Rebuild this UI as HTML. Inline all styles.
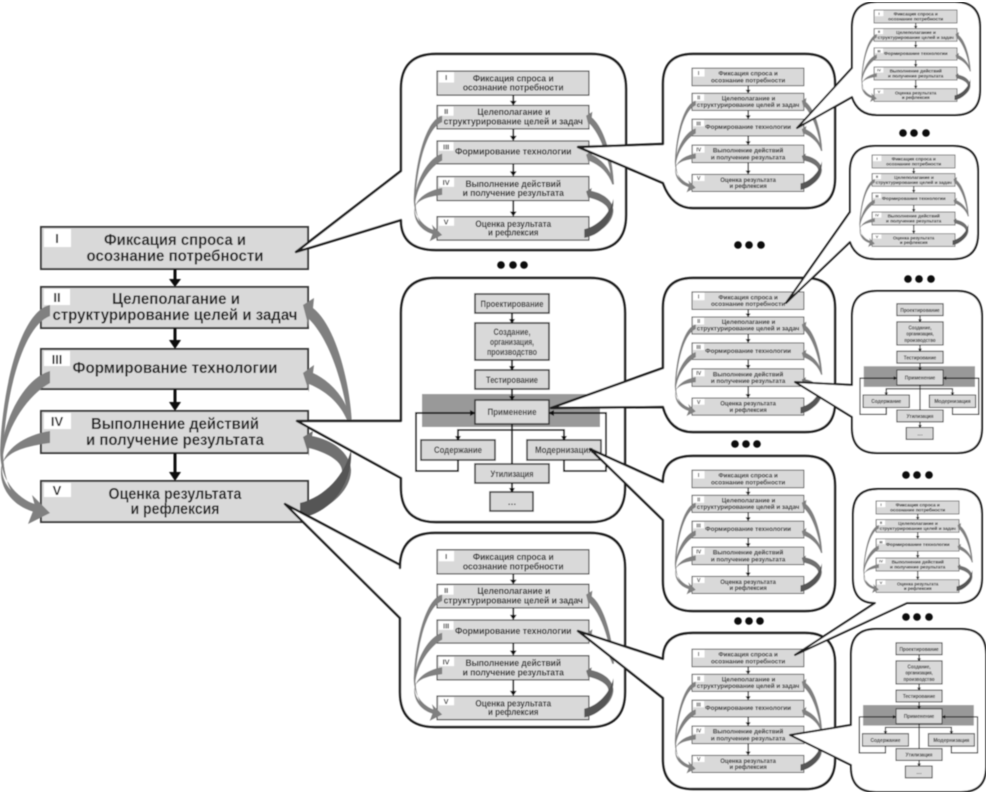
<!DOCTYPE html>
<html lang="ru"><head><meta charset="utf-8"><title>Диаграмма</title>
<style>
html,body{margin:0;padding:0;background:#fff}
svg{display:block}
text{font-family:"Liberation Sans",sans-serif;font-weight:bold;fill:#222;text-anchor:middle}
.c{font-size:15.5px}
.n{font-size:13px}
.p{font-size:9px;fill:#333}
.co{fill:#fff;stroke:#1a1a1a;stroke-width:2.4;stroke-linejoin:round}
.co2{fill:#fff;stroke:#1a1a1a;stroke-width:2;stroke-linejoin:round}
</style></head><body>
<svg width="988" height="793" viewBox="0 0 988 793" xmlns="http://www.w3.org/2000/svg">
<defs>
<filter id="b" x="0" y="0" width="100%" height="100%"><feGaussianBlur stdDeviation="0.45"/></filter>
<g id="fs">
<g fill="#d9d9d9" stroke="#3a3a3a" stroke-width="2">
<rect x="41" y="227" width="267" height="42"/><rect x="41" y="287" width="267" height="41"/><rect x="41" y="349" width="267" height="40"/><rect x="41" y="411" width="267" height="42"/><rect x="41" y="481" width="267" height="41"/>
</g>
<g fill="#fff">
<rect x="44" y="229" width="27" height="18"/><rect x="44" y="289" width="26" height="16"/><rect x="44" y="351" width="26" height="15"/><rect x="44" y="413" width="27" height="16"/><rect x="44" y="483" width="27" height="14"/>
</g>
<g stroke="#111" stroke-width="3"><path d="M175 269V280M175 328V341M175 389V404M175 453V473" fill="none"/></g>
<path d="M169 279h12l-6 8zM169 340h12l-6 9zM169 402h12l-6 9zM169 472h12l-6 9z" fill="#111"/>
<g fill="#808080">
<path d="M50 305C25 310 4 370 0 450C0 478 14 497 38 506L38 512C12 504 3 480 3 450C7 385 25 325 50 316Z"/>
<path d="M50 371C26 378 4 415 1 455C1 480 14 497 38 506L38 512C12 504 4 482 3 455C8 425 28 395 50 383Z"/>
<path d="M50 431C24 435 3 450 2 468C2 486 16 499 38 505L38 513C12 507 0 488 1 470C2 452 26 446 50 443Z"/>
<path d="M50 513L32 495L35 506L28 524Z"/>
<path d="M303 305L314 298L313 308C335 325 350 380 352 425L349 425C344 385 330 340 309 319L309 328Z"/>
<path d="M303 373L314 365L313 373C332 382 348 400 352 425L349 425C342 405 328 392 309 384L309 392Z"/>
</g>
<path d="M303 437L313 431L312 436C332 440 350 452 351 470C351 490 330 510 300 517L300 503C322 500 343 485 342 470C341 460 325 452 309 448L309 456Z" fill="#707070"/>
<path d="M300 503C325 497 345 475 351 450C353 480 335 512 300 518Z" fill="#555"/>
</g>
<g id="ps">
<rect x="422" y="394" width="178" height="33" fill="#999"/>
<g fill="#d9d9d9" stroke="#3a3a3a" stroke-width="1.6">
<rect x="475" y="294" width="74" height="19"/><rect x="475" y="323" width="74" height="37"/><rect x="475" y="370" width="74" height="19"/><rect x="475" y="400" width="74" height="24"/><rect x="421" y="440" width="74" height="20"/><rect x="527" y="440" width="74" height="20"/><rect x="475" y="464" width="74" height="19"/><rect x="490" y="492" width="43" height="19"/>
</g>
<g fill="none" stroke="#111" stroke-width="1.8">
<path d="M512 313V320M512 360V367M512 389V397M512 424V464M512 483V489M458 437V430H564V437"/>
<path d="M458 460V471H416V413H472M564 460V471H606V413H552"/>
</g>
<path d="M509 319h6l-3 5zM509 366h6l-3 5zM509 396h6l-3 5zM509 488h6l-3 5zM455 436h6l-3 5zM561 436h6l-3 5zM470 410v6l6-3zM554 410v6l-6-3z" fill="#111"/>
</g>
</defs>
<g filter="url(#b)">
<g>
<use href="#fs"/>
<text class="c" x="175" y="245" textLength="142" lengthAdjust="spacingAndGlyphs">Фиксация спроса и</text><text class="c" x="175" y="261" textLength="177" lengthAdjust="spacingAndGlyphs">осознание потребности</text><text class="c" x="176" y="304" textLength="128" lengthAdjust="spacingAndGlyphs">Целеполагание и</text><text class="c" x="175" y="320" textLength="245" lengthAdjust="spacingAndGlyphs">структурирование целей и задач</text><text class="c" x="175" y="373" textLength="205" lengthAdjust="spacingAndGlyphs">Формирование технологии</text><text class="c" x="175" y="429" textLength="168" lengthAdjust="spacingAndGlyphs">Выполнение действий</text><text class="c" x="175" y="445" textLength="178" lengthAdjust="spacingAndGlyphs">и получение результата</text><text class="c" x="175" y="499" textLength="133" lengthAdjust="spacingAndGlyphs">Оценка результата</text><text class="c" x="175" y="514" textLength="89" lengthAdjust="spacingAndGlyphs">и рефлексия</text>
<text class="n" x="57" y="243">I</text><text class="n" x="57" y="302">II</text><text class="n" x="57" y="364">III</text><text class="n" x="57" y="426">IV</text><text class="n" x="57" y="495">V</text>
</g>

<path class="co" d="M296 252L401 171V89Q401 54 436 54H591Q626 54 626 89V215Q626 250 591 250H436Q401 250 401 220Z"/>
<path class="co" d="M297 421L401 421V313Q401 278 436 278H590Q625 278 625 313V487Q625 522 590 522H436Q401 522 401 487V478Z"/>
<path class="co" d="M285 504L400 565V568Q400 533 435 533H590Q625 533 625 568V692Q625 727 590 727H435Q400 727 400 692V618Z"/>

<g transform="translate(413.7 -59) scale(.569 .573)">
<use href="#fs"/>
<text class="c" x="175" y="245" textLength="142" lengthAdjust="spacingAndGlyphs">Фиксация спроса и</text><text class="c" x="175" y="261" textLength="177" lengthAdjust="spacingAndGlyphs">осознание потребности</text><text class="c" x="176" y="304" textLength="128" lengthAdjust="spacingAndGlyphs">Целеполагание и</text><text class="c" x="175" y="320" textLength="245" lengthAdjust="spacingAndGlyphs">структурирование целей и задач</text><text class="c" x="175" y="373" textLength="205" lengthAdjust="spacingAndGlyphs">Формирование технологии</text><text class="c" x="175" y="429" textLength="168" lengthAdjust="spacingAndGlyphs">Выполнение действий</text><text class="c" x="175" y="445" textLength="178" lengthAdjust="spacingAndGlyphs">и получение результата</text><text class="c" x="175" y="499" textLength="133" lengthAdjust="spacingAndGlyphs">Оценка результата</text><text class="c" x="175" y="514" textLength="89" lengthAdjust="spacingAndGlyphs">и рефлексия</text>
<text class="n" x="57" y="243">I</text><text class="n" x="57" y="302">II</text><text class="n" x="57" y="364">III</text><text class="n" x="57" y="426">IV</text><text class="n" x="57" y="495">V</text>
</g>
<g transform="translate(413.7 419) scale(.569 .576)">
<use href="#fs"/>
<text class="c" x="175" y="245" textLength="142" lengthAdjust="spacingAndGlyphs">Фиксация спроса и</text><text class="c" x="175" y="261" textLength="177" lengthAdjust="spacingAndGlyphs">осознание потребности</text><text class="c" x="176" y="304" textLength="128" lengthAdjust="spacingAndGlyphs">Целеполагание и</text><text class="c" x="175" y="320" textLength="245" lengthAdjust="spacingAndGlyphs">структурирование целей и задач</text><text class="c" x="175" y="373" textLength="205" lengthAdjust="spacingAndGlyphs">Формирование технологии</text><text class="c" x="175" y="429" textLength="168" lengthAdjust="spacingAndGlyphs">Выполнение действий</text><text class="c" x="175" y="445" textLength="178" lengthAdjust="spacingAndGlyphs">и получение результата</text><text class="c" x="175" y="499" textLength="133" lengthAdjust="spacingAndGlyphs">Оценка результата</text><text class="c" x="175" y="514" textLength="89" lengthAdjust="spacingAndGlyphs">и рефлексия</text>
<text class="n" x="57" y="243">I</text><text class="n" x="57" y="302">II</text><text class="n" x="57" y="364">III</text><text class="n" x="57" y="426">IV</text><text class="n" x="57" y="495">V</text>
</g>
<g>
<use href="#ps"/>
<text class="p" x="512" y="307" textLength="63" lengthAdjust="spacingAndGlyphs">Проектирование</text><text class="p" x="512" y="335" textLength="37" lengthAdjust="spacingAndGlyphs">Создание,</text><text class="p" x="512" y="345" textLength="44" lengthAdjust="spacingAndGlyphs">организация,</text><text class="p" x="512" y="355" textLength="50" lengthAdjust="spacingAndGlyphs">производство</text><text class="p" x="512" y="383" textLength="52" lengthAdjust="spacingAndGlyphs">Тестирование</text><text class="p" x="512" y="415" textLength="49" lengthAdjust="spacingAndGlyphs">Применение</text><text class="p" x="458" y="453" textLength="48" lengthAdjust="spacingAndGlyphs">Содержание</text><text class="p" x="564" y="453" textLength="58" lengthAdjust="spacingAndGlyphs">Модернизация</text><text class="p" x="512" y="477" textLength="43" lengthAdjust="spacingAndGlyphs">Утилизация</text><text class="p" x="512" y="505">…</text>
</g>

<path class="co" d="M578 147L663 144V84Q663 54 693 54H805Q835 54 835 84V178Q835 208 805 208H693Q672 208 663 183Z"/>
<path class="co" d="M551 408L663 368V308Q663 278 693 278H805Q835 278 835 308V402Q835 432 805 432H693Q670 432 663 407Z"/>
<path class="co" d="M590 449L663 482Q663 456 693 456H805Q835 456 835 486V581Q835 611 805 611H693Q663 611 663 581V520Z"/>
<path class="co" d="M578 631L663 659Q663 633 693 633H805Q835 633 835 663V759Q835 789 805 789H693Q663 789 663 759V698Z"/>

<g transform="translate(674.8 -26.7) scale(.419 .418)">
<use href="#fs"/>
<text class="c" x="175" y="245" textLength="142" lengthAdjust="spacingAndGlyphs">Фиксация спроса и</text><text class="c" x="175" y="261" textLength="177" lengthAdjust="spacingAndGlyphs">осознание потребности</text><text class="c" x="176" y="304" textLength="128" lengthAdjust="spacingAndGlyphs">Целеполагание и</text><text class="c" x="175" y="320" textLength="245" lengthAdjust="spacingAndGlyphs">структурирование целей и задач</text><text class="c" x="175" y="373" textLength="205" lengthAdjust="spacingAndGlyphs">Формирование технологии</text><text class="c" x="175" y="429" textLength="168" lengthAdjust="spacingAndGlyphs">Выполнение действий</text><text class="c" x="175" y="445" textLength="178" lengthAdjust="spacingAndGlyphs">и получение результата</text><text class="c" x="175" y="499" textLength="133" lengthAdjust="spacingAndGlyphs">Оценка результата</text><text class="c" x="175" y="514" textLength="89" lengthAdjust="spacingAndGlyphs">и рефлексия</text>
<text class="n" x="57" y="243">I</text><text class="n" x="57" y="302">II</text><text class="n" x="57" y="364">III</text><text class="n" x="57" y="426">IV</text><text class="n" x="57" y="495">V</text>
</g>
<g transform="translate(674.8 197) scale(.419 .418)">
<use href="#fs"/>
<text class="c" x="175" y="245" textLength="142" lengthAdjust="spacingAndGlyphs">Фиксация спроса и</text><text class="c" x="175" y="261" textLength="177" lengthAdjust="spacingAndGlyphs">осознание потребности</text><text class="c" x="176" y="304" textLength="128" lengthAdjust="spacingAndGlyphs">Целеполагание и</text><text class="c" x="175" y="320" textLength="245" lengthAdjust="spacingAndGlyphs">структурирование целей и задач</text><text class="c" x="175" y="373" textLength="205" lengthAdjust="spacingAndGlyphs">Формирование технологии</text><text class="c" x="175" y="429" textLength="168" lengthAdjust="spacingAndGlyphs">Выполнение действий</text><text class="c" x="175" y="445" textLength="178" lengthAdjust="spacingAndGlyphs">и получение результата</text><text class="c" x="175" y="499" textLength="133" lengthAdjust="spacingAndGlyphs">Оценка результата</text><text class="c" x="175" y="514" textLength="89" lengthAdjust="spacingAndGlyphs">и рефлексия</text>
<text class="n" x="57" y="243">I</text><text class="n" x="57" y="302">II</text><text class="n" x="57" y="364">III</text><text class="n" x="57" y="426">IV</text><text class="n" x="57" y="495">V</text>
</g>
<g transform="translate(674.8 375.3) scale(.419 .418)">
<use href="#fs"/>
<text class="c" x="175" y="245" textLength="142" lengthAdjust="spacingAndGlyphs">Фиксация спроса и</text><text class="c" x="175" y="261" textLength="177" lengthAdjust="spacingAndGlyphs">осознание потребности</text><text class="c" x="176" y="304" textLength="128" lengthAdjust="spacingAndGlyphs">Целеполагание и</text><text class="c" x="175" y="320" textLength="245" lengthAdjust="spacingAndGlyphs">структурирование целей и задач</text><text class="c" x="175" y="373" textLength="205" lengthAdjust="spacingAndGlyphs">Формирование технологии</text><text class="c" x="175" y="429" textLength="168" lengthAdjust="spacingAndGlyphs">Выполнение действий</text><text class="c" x="175" y="445" textLength="178" lengthAdjust="spacingAndGlyphs">и получение результата</text><text class="c" x="175" y="499" textLength="133" lengthAdjust="spacingAndGlyphs">Оценка результата</text><text class="c" x="175" y="514" textLength="89" lengthAdjust="spacingAndGlyphs">и рефлексия</text>
<text class="n" x="57" y="243">I</text><text class="n" x="57" y="302">II</text><text class="n" x="57" y="364">III</text><text class="n" x="57" y="426">IV</text><text class="n" x="57" y="495">V</text>
</g>
<g transform="translate(674.8 554.3) scale(.419 .418)">
<use href="#fs"/>
<text class="c" x="175" y="245" textLength="142" lengthAdjust="spacingAndGlyphs">Фиксация спроса и</text><text class="c" x="175" y="261" textLength="177" lengthAdjust="spacingAndGlyphs">осознание потребности</text><text class="c" x="176" y="304" textLength="128" lengthAdjust="spacingAndGlyphs">Целеполагание и</text><text class="c" x="175" y="320" textLength="245" lengthAdjust="spacingAndGlyphs">структурирование целей и задач</text><text class="c" x="175" y="373" textLength="205" lengthAdjust="spacingAndGlyphs">Формирование технологии</text><text class="c" x="175" y="429" textLength="168" lengthAdjust="spacingAndGlyphs">Выполнение действий</text><text class="c" x="175" y="445" textLength="178" lengthAdjust="spacingAndGlyphs">и получение результата</text><text class="c" x="175" y="499" textLength="133" lengthAdjust="spacingAndGlyphs">Оценка результата</text><text class="c" x="175" y="514" textLength="89" lengthAdjust="spacingAndGlyphs">и рефлексия</text>
<text class="n" x="57" y="243">I</text><text class="n" x="57" y="302">II</text><text class="n" x="57" y="364">III</text><text class="n" x="57" y="426">IV</text><text class="n" x="57" y="495">V</text>
</g>

<path class="co2" d="M797 128L852 68V27Q852 2 877 2H955Q980 2 980 27V90Q980 115 955 115H877Q858 115 852 97Z"/>
<path class="co2" d="M786 303L850 212V171Q850 146 875 146H953Q978 146 978 171V234Q978 259 953 259H875Q856 259 850 242Z"/>
<path class="co2" d="M795 382L852 385V316Q852 291 877 291H957Q982 291 982 316V428Q982 453 957 453H877Q852 453 852 428V417Z"/>
<path class="co2" d="M795 655L907 603H957Q982 603 982 578V514Q982 489 957 489H878Q853 489 853 514V578Q853 603 875 603Z"/>
<path class="co2" d="M790 735L851 725V654Q851 629 876 629H961Q986 629 986 654V767Q986 792 961 792H876Q851 792 851 767V765Z"/>

<g transform="translate(861.3 -60.4) scale(.311 .31)">
<use href="#fs"/>
<text class="c" x="175" y="245" textLength="142" lengthAdjust="spacingAndGlyphs">Фиксация спроса и</text><text class="c" x="175" y="261" textLength="177" lengthAdjust="spacingAndGlyphs">осознание потребности</text><text class="c" x="176" y="304" textLength="128" lengthAdjust="spacingAndGlyphs">Целеполагание и</text><text class="c" x="175" y="320" textLength="245" lengthAdjust="spacingAndGlyphs">структурирование целей и задач</text><text class="c" x="175" y="373" textLength="205" lengthAdjust="spacingAndGlyphs">Формирование технологии</text><text class="c" x="175" y="429" textLength="168" lengthAdjust="spacingAndGlyphs">Выполнение действий</text><text class="c" x="175" y="445" textLength="178" lengthAdjust="spacingAndGlyphs">и получение результата</text><text class="c" x="175" y="499" textLength="133" lengthAdjust="spacingAndGlyphs">Оценка результата</text><text class="c" x="175" y="514" textLength="89" lengthAdjust="spacingAndGlyphs">и рефлексия</text>
<text class="n" x="57" y="243">I</text><text class="n" x="57" y="302">II</text><text class="n" x="57" y="364">III</text><text class="n" x="57" y="426">IV</text><text class="n" x="57" y="495">V</text>
</g>
<g transform="translate(859.3 84.6) scale(.311 .31)">
<use href="#fs"/>
<text class="c" x="175" y="245" textLength="142" lengthAdjust="spacingAndGlyphs">Фиксация спроса и</text><text class="c" x="175" y="261" textLength="177" lengthAdjust="spacingAndGlyphs">осознание потребности</text><text class="c" x="176" y="304" textLength="128" lengthAdjust="spacingAndGlyphs">Целеполагание и</text><text class="c" x="175" y="320" textLength="245" lengthAdjust="spacingAndGlyphs">структурирование целей и задач</text><text class="c" x="175" y="373" textLength="205" lengthAdjust="spacingAndGlyphs">Формирование технологии</text><text class="c" x="175" y="429" textLength="168" lengthAdjust="spacingAndGlyphs">Выполнение действий</text><text class="c" x="175" y="445" textLength="178" lengthAdjust="spacingAndGlyphs">и получение результата</text><text class="c" x="175" y="499" textLength="133" lengthAdjust="spacingAndGlyphs">Оценка результата</text><text class="c" x="175" y="514" textLength="89" lengthAdjust="spacingAndGlyphs">и рефлексия</text>
<text class="n" x="57" y="243">I</text><text class="n" x="57" y="302">II</text><text class="n" x="57" y="364">III</text><text class="n" x="57" y="426">IV</text><text class="n" x="57" y="495">V</text>
</g>
<g transform="translate(863.3 430.6) scale(.311 .31)">
<use href="#fs"/>
<text class="c" x="175" y="245" textLength="142" lengthAdjust="spacingAndGlyphs">Фиксация спроса и</text><text class="c" x="175" y="261" textLength="177" lengthAdjust="spacingAndGlyphs">осознание потребности</text><text class="c" x="176" y="304" textLength="128" lengthAdjust="spacingAndGlyphs">Целеполагание и</text><text class="c" x="175" y="320" textLength="245" lengthAdjust="spacingAndGlyphs">структурирование целей и задач</text><text class="c" x="175" y="373" textLength="205" lengthAdjust="spacingAndGlyphs">Формирование технологии</text><text class="c" x="175" y="429" textLength="168" lengthAdjust="spacingAndGlyphs">Выполнение действий</text><text class="c" x="175" y="445" textLength="178" lengthAdjust="spacingAndGlyphs">и получение результата</text><text class="c" x="175" y="499" textLength="133" lengthAdjust="spacingAndGlyphs">Оценка результата</text><text class="c" x="175" y="514" textLength="89" lengthAdjust="spacingAndGlyphs">и рефлексия</text>
<text class="n" x="57" y="243">I</text><text class="n" x="57" y="302">II</text><text class="n" x="57" y="364">III</text><text class="n" x="57" y="426">IV</text><text class="n" x="57" y="495">V</text>
</g>
<g transform="translate(600 120) scale(.625)">
<use href="#ps"/>
<text class="p" x="512" y="307" textLength="63" lengthAdjust="spacingAndGlyphs">Проектирование</text><text class="p" x="512" y="335" textLength="37" lengthAdjust="spacingAndGlyphs">Создание,</text><text class="p" x="512" y="345" textLength="44" lengthAdjust="spacingAndGlyphs">организация,</text><text class="p" x="512" y="355" textLength="50" lengthAdjust="spacingAndGlyphs">производство</text><text class="p" x="512" y="383" textLength="52" lengthAdjust="spacingAndGlyphs">Тестирование</text><text class="p" x="512" y="415" textLength="49" lengthAdjust="spacingAndGlyphs">Применение</text><text class="p" x="458" y="453" textLength="48" lengthAdjust="spacingAndGlyphs">Содержание</text><text class="p" x="564" y="453" textLength="58" lengthAdjust="spacingAndGlyphs">Модернизация</text><text class="p" x="512" y="477" textLength="43" lengthAdjust="spacingAndGlyphs">Утилизация</text><text class="p" x="512" y="505">…</text>
</g>
<g transform="translate(600.6 460) scale(.622)">
<use href="#ps"/>
<text class="p" x="512" y="307" textLength="63" lengthAdjust="spacingAndGlyphs">Проектирование</text><text class="p" x="512" y="335" textLength="37" lengthAdjust="spacingAndGlyphs">Создание,</text><text class="p" x="512" y="345" textLength="44" lengthAdjust="spacingAndGlyphs">организация,</text><text class="p" x="512" y="355" textLength="50" lengthAdjust="spacingAndGlyphs">производство</text><text class="p" x="512" y="383" textLength="52" lengthAdjust="spacingAndGlyphs">Тестирование</text><text class="p" x="512" y="415" textLength="49" lengthAdjust="spacingAndGlyphs">Применение</text><text class="p" x="458" y="453" textLength="48" lengthAdjust="spacingAndGlyphs">Содержание</text><text class="p" x="564" y="453" textLength="58" lengthAdjust="spacingAndGlyphs">Модернизация</text><text class="p" x="512" y="477" textLength="43" lengthAdjust="spacingAndGlyphs">Утилизация</text><text class="p" x="512" y="505">…</text>
</g>

<g fill="#111">
<circle cx="501" cy="265" r="3.8"/><circle cx="513" cy="265" r="3.8"/><circle cx="524" cy="265" r="3.8"/>
<circle cx="738" cy="245" r="3.8"/><circle cx="749" cy="245" r="3.8"/><circle cx="761" cy="245" r="3.8"/>
<circle cx="735" cy="444" r="3.8"/><circle cx="746" cy="444" r="3.8"/><circle cx="757" cy="444" r="3.8"/>
<circle cx="738" cy="621" r="3.8"/><circle cx="749" cy="621" r="3.8"/><circle cx="760" cy="621" r="3.8"/>
<circle cx="903" cy="133" r="3.8"/><circle cx="914" cy="133" r="3.8"/><circle cx="926" cy="133" r="3.8"/>
<circle cx="908" cy="279" r="3.8"/><circle cx="919" cy="279" r="3.8"/><circle cx="931" cy="279" r="3.8"/>
<circle cx="906" cy="617" r="3.8"/><circle cx="917" cy="617" r="3.8"/><circle cx="929" cy="617" r="3.8"/>
<circle cx="906" cy="475" r="3.8"/><circle cx="917" cy="475" r="3.8"/><circle cx="929" cy="475" r="3.8"/>
</g>
</g>
</svg>
</body></html>
